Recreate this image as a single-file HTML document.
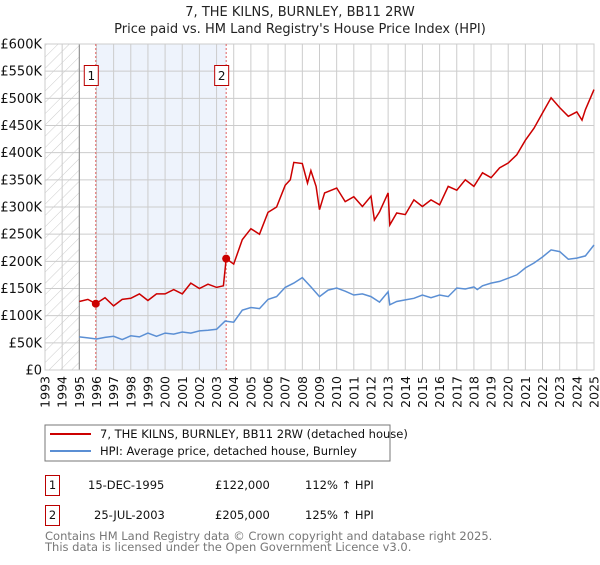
<!DOCTYPE html>
<html><head><meta charset="utf-8"><style>
body{margin:0;background:#fff;font-family:"Liberation Sans","DejaVu Sans",sans-serif;}
svg text{font-family:"DejaVu Sans","Liberation Sans",sans-serif;}
</style></head><body>
<svg id="c" width="600" height="560" xmlns="http://www.w3.org/2000/svg">
<defs><pattern id="hatch" patternUnits="userSpaceOnUse" width="8" height="8" patternTransform="rotate(45)"><line x1="0" y1="0" x2="0" y2="8" stroke="#ccc" stroke-width="1"/></pattern></defs>
<text x="300" y="16" text-anchor="middle" font-size="13" fill="#222">7, THE KILNS, BURNLEY, BB11 2RW</text>
<text x="300" y="33" text-anchor="middle" font-size="13" fill="#222">Price paid vs. HM Land Registry's House Price Index (HPI)</text>
<g id="plot"></g>
<rect x="45" y="425" width="345" height="36" fill="#fff" stroke="#777"/>
<line x1="50" y1="434" x2="91" y2="434" stroke="#cc0000" stroke-width="2"/>
<text x="100" y="438" font-size="11.5" fill="#111">7, THE KILNS, BURNLEY, BB11 2RW (detached house)</text>
<line x1="50" y1="451" x2="91" y2="451" stroke="#5b8fd4" stroke-width="2"/>
<text x="100" y="455" font-size="11.5" fill="#111">HPI: Average price, detached house, Burnley</text>
<g font-size="11.5" fill="#111">
<rect x="45.5" y="475.5" width="14" height="20" fill="none" stroke="#bb0000"/>
<text x="52.5" y="489" text-anchor="middle">1</text>
<text x="88" y="489">15-DEC-1995</text>
<text x="215" y="489">£122,000</text>
<text x="305" y="489">112% ↑ HPI</text>
<rect x="45.5" y="505.5" width="14" height="20" fill="none" stroke="#bb0000"/>
<text x="52.5" y="519" text-anchor="middle">2</text>
<text x="94" y="519">25-JUL-2003</text>
<text x="215" y="519">£205,000</text>
<text x="305" y="519">125% ↑ HPI</text>
</g>
<text x="45" y="540" font-size="11.5" fill="#777">Contains HM Land Registry data © Crown copyright and database right 2025.</text>
<text x="45" y="551" font-size="11.5" fill="#777">This data is licensed under the Open Government Licence v3.0.</text>
</svg>
<script>
const hpiYears=[1995,1995.5,1996,1996.5,1997,1997.5,1998,1998.5,1999,1999.5,2000,2000.5,2001,2001.5,2002,2002.5,2003,2003.5,2004,2004.5,2005,2005.5,2006,2006.5,2007,2007.5,2008,2008.5,2009,2009.5,2010,2010.5,2011,2011.5,2012,2012.5,2013,2013.1,2013.5,2014,2014.5,2015,2015.5,2016,2016.5,2017,2017.5,2018,2018.2,2018.5,2019,2019.5,2020,2020.5,2021,2021.5,2022,2022.5,2023,2023.5,2024,2024.5,2025];
const hpiValues=[61,59,57,60,62,56,63,61,68,62,68,66,70,68,72,73,75,90,88,110,115,113,130,135,152,160,170,153,135,147,151,145,138,140,135,125,144,120,126,129,132,138,133,138,135,151,149,153,148,155,160,163,169,175,188,197,208,221,218,204,206,210,230];
const priceYears=[1995,1995.5,1995.96,1996.5,1997,1997.5,1998,1998.5,1999,1999.5,2000,2000.5,2001,2001.5,2002,2002.5,2003,2003.4,2003.56,2004,2004.5,2005,2005.5,2006,2006.5,2007,2007.3,2007.5,2008,2008.3,2008.5,2008.8,2009,2009.3,2010,2010.5,2011,2011.5,2012,2012.2,2012.5,2013,2013.1,2013.5,2014,2014.5,2015,2015.5,2016,2016.5,2017,2017.5,2018,2018.5,2019,2019.5,2020,2020.5,2021,2021.5,2022,2022.5,2023,2023.5,2024,2024.3,2024.5,2025];
const priceValues=[126,130,122,133,118,130,132,140,128,140,140,148,140,160,150,158,152,155,205,195,240,260,250,290,300,340,350,382,380,344,367,338,295,326,335,310,319,301,320,276,291,326,267,289,286,313,301,313,304,338,331,350,338,363,354,372,381,396,423,445,473,501,483,467,475,460,479,516];
const yTicks=[0,50,100,150,200,250,300,350,400,450,500,550,600];
const yTickLabels=["£0","£50K","£100K","£150K","£200K","£250K","£300K","£350K","£400K","£450K","£500K","£550K","£600K"];
const xTicks=[1993,1994,1995,1996,1997,1998,1999,2000,2001,2002,2003,2004,2005,2006,2007,2008,2009,2010,2011,2012,2013,2014,2015,2016,2017,2018,2019,2020,2021,2022,2023,2024,2025];
const sales=[{n:"1",t:1995.96,v:122},{n:"2",t:2003.56,v:205}];
const X0=45,X1=594,Y0=370,Y1=44;
const xs=t=>X0+(t-1993)/(2025-1993)*(X1-X0);
const ys=v=>Y0-v/600*(Y0-Y1);
const NS="http://www.w3.org/2000/svg";
const g=document.getElementById('plot');
function mk(tag,attrs){const e=document.createElementNS(NS,tag);for(const k in attrs)e.setAttribute(k,attrs[k]);g.appendChild(e);return e;}
let e;
e=mk('rect',{x:X0,y:Y1,width:xs(1995)-X0,height:Y0-Y1,fill:'url(#hatch)'});


e=mk('rect',{x:xs(sales[0].t),y:Y1,width:xs(sales[1].t)-xs(sales[0].t),height:Y0-Y1,fill:'#eef3fc'});


yTicks.forEach((v,i)=>{
 e=mk('line',{x1:X0,x2:X1,y1:ys(v),y2:ys(v),stroke:'#ccc','stroke-width':1});
 
 
 e=mk('text',{x:X0-3,y:ys(v)+4.5,'text-anchor':'end','font-size':13,fill:'#111'});
 e.textContent=yTickLabels[i];
 
 
});
xTicks.forEach(t=>{
 e=mk('line',{x1:xs(t),x2:xs(t),y1:Y1,y2:Y0,stroke:'#ccc','stroke-width':1});
 
 
 e=mk('text',{x:0,y:0,'text-anchor':'end','font-size':12.5,fill:'#111',transform:`translate(${xs(t)+4.5},${Y0+6}) rotate(-90)`});
 e.textContent=t;
 
 
});
e=mk('line',{x1:xs(1995),x2:xs(1995),y1:Y1,y2:Y0,stroke:'#888','stroke-width':1});


e=mk('rect',{x:X0,y:Y1,width:X1-X0,height:Y0-Y1,fill:'none',stroke:'#ccc'});


sales.forEach(s=>{
 e=mk('line',{x1:xs(s.t),x2:xs(s.t),y1:Y1,y2:Y0,stroke:'#e06060','stroke-width':1,'stroke-dasharray':'2,2'});
 
 
 e=mk('rect',{x:xs(s.t)-11.5,y:65.5,width:14,height:20,fill:'#fff',stroke:'#bb0000'});
 
 
 e=mk('text',{x:xs(s.t)-4.5,y:80,'text-anchor':'middle','font-size':12,fill:'#111'});
 e.textContent=s.n;
 
 
});
const path=(xa,va)=>xa.map((t,i)=>(i?'L':'M')+xs(t).toFixed(1)+','+ys(va[i]).toFixed(1)).join('');
e=mk('path',{d:path(hpiYears,hpiValues),fill:'none',stroke:'#5b8fd4','stroke-width':1.5});


e=mk('path',{d:path(priceYears,priceValues),fill:'none',stroke:'#cc0000','stroke-width':1.5});


sales.forEach(s=>{
 e=mk('circle',{cx:xs(s.t),cy:ys(s.v),r:4,fill:'#cc0000'});
 
 
});
</script>
</body></html>
